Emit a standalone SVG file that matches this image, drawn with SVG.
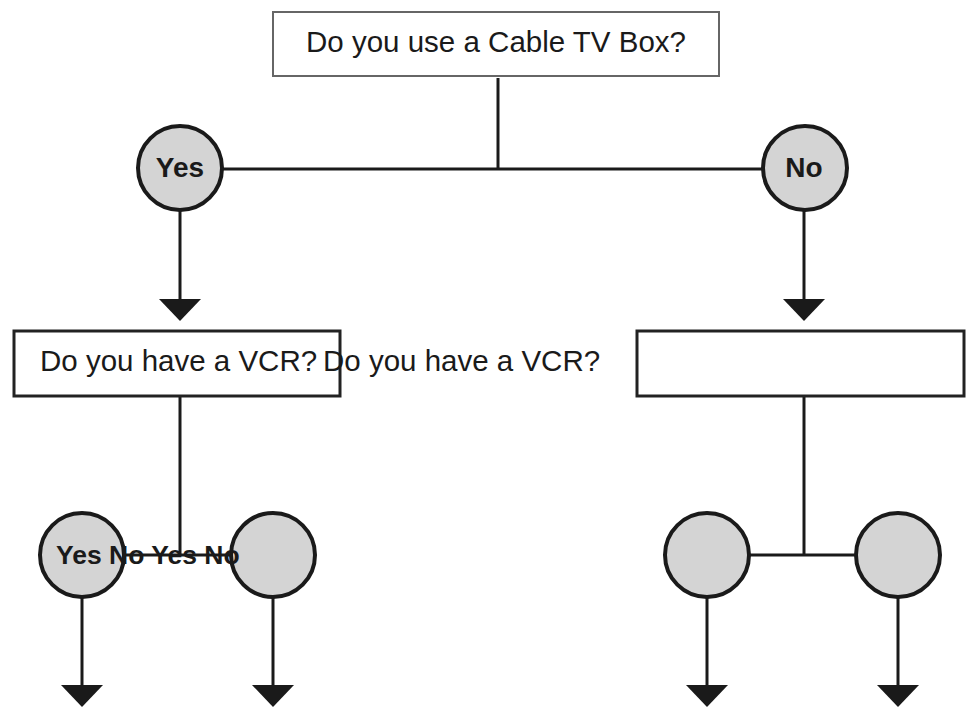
<svg xmlns="http://www.w3.org/2000/svg" width="968" height="707" viewBox="0 0 968 707">
<style>
.box{fill:#fff;stroke:#222;stroke-width:3}
.topbox{fill:#fff;stroke:#666;stroke-width:2}
.dot{fill:#d4d4d4;stroke:#1a1a1a;stroke-width:4}
.con{stroke:#1a1a1a;stroke-width:3;fill:none}
.q{font-family:"Liberation Sans",Arial,sans-serif;font-size:29.5px;fill:#1a1a1a}
.lab{font-family:"Liberation Sans",Arial,sans-serif;font-size:28px;font-weight:bold;fill:#1a1a1a}
.lab2{font-family:"Liberation Sans",Arial,sans-serif;font-size:26.5px;font-weight:bold;fill:#1a1a1a}
</style>
<defs>
<marker id="arr" markerUnits="userSpaceOnUse" markerWidth="24" markerHeight="44" refX="0" refY="21" orient="auto" viewBox="0 0 24 44">
<path d="M0,0 L22,21 L0,42 Z" fill="#1a1a1a"/>
</marker>
</defs>
<rect width="968" height="707" fill="#fff"/>
<g id="connectors">
<line class="con" x1="498" y1="78" x2="498" y2="169"/>
<line class="con" x1="222" y1="169" x2="762" y2="169"/>
<line class="con" x1="180" y1="211" x2="180" y2="299" marker-end="url(#arr)"/>
<line class="con" x1="804" y1="211" x2="804" y2="299" marker-end="url(#arr)"/>
<line class="con" x1="180" y1="396" x2="180" y2="555"/>
<line class="con" x1="124" y1="555" x2="231" y2="555"/>
<line class="con" x1="804" y1="396" x2="804" y2="555"/>
<line class="con" x1="750" y1="555" x2="856" y2="555"/>
<line class="con" x1="82" y1="598" x2="82" y2="685" marker-end="url(#arr)"/>
<line class="con" x1="273" y1="598" x2="273" y2="685" marker-end="url(#arr)"/>
<line class="con" x1="707" y1="598" x2="707" y2="685" marker-end="url(#arr)"/>
<line class="con" x1="898" y1="598" x2="898" y2="685" marker-end="url(#arr)"/>
</g>
<g id="node-cable">
<rect class="topbox" x="273" y="12" width="446" height="64"/>
<text class="q" x="496" y="52" text-anchor="middle">Do you use a Cable TV Box?</text>
</g>
<g id="node-yes">
<circle class="dot" cx="180" cy="168" r="42"/>
<text class="lab" x="180" y="177" text-anchor="middle">Yes</text>
</g>
<g id="node-no">
<circle class="dot" cx="805" cy="168" r="42"/>
<text class="lab" x="804" y="177" text-anchor="middle">No</text>
</g>
<g id="node-vcr-left">
<rect class="box" x="14" y="331" width="326" height="65"/>
</g>
<g id="node-vcr-right">
<rect class="box" x="637" y="331" width="327" height="65"/>
</g>
<g id="node-l-yes">
<circle class="dot" cx="82" cy="555" r="42"/>
</g>
<g id="node-l-no">
<circle class="dot" cx="273" cy="555" r="42"/>
</g>
<g id="node-r-yes">
<circle class="dot" cx="707" cy="555" r="42"/>
</g>
<g id="node-r-no">
<circle class="dot" cx="898" cy="555" r="42"/>
</g>
<g id="labels">
<text class="q" x="40" y="371">Do you have a VCR?</text>
<text class="q" x="323" y="371">Do you have a VCR?</text>
<text class="lab2" x="56" y="564">Yes No Yes No</text>
</g>
</svg>
